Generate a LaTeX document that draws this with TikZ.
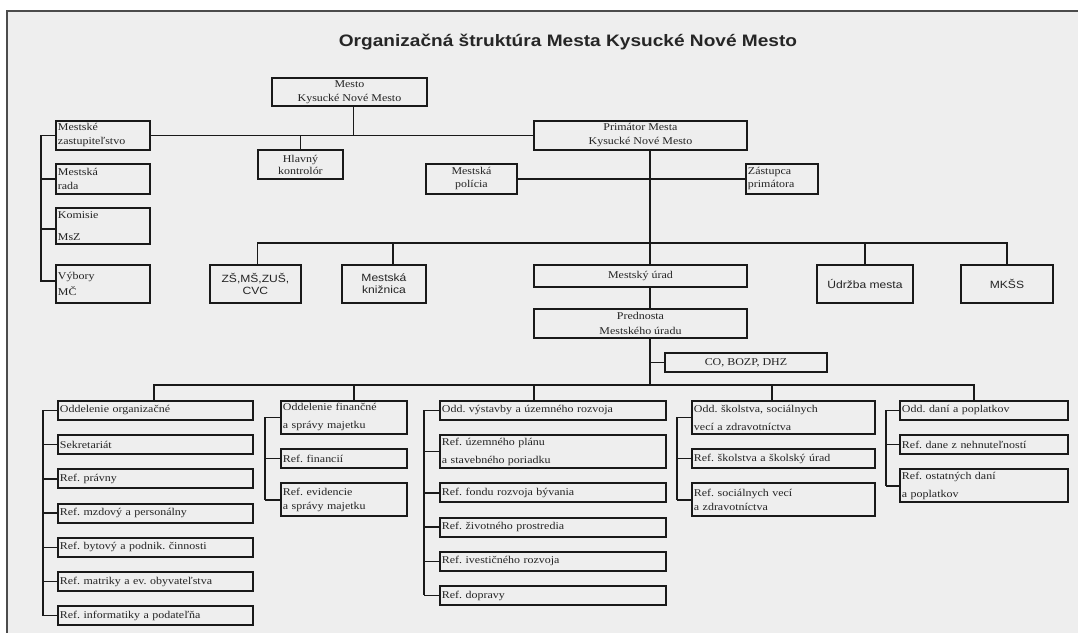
\documentclass[tikz,border=0pt]{standalone}
\usepackage{fontspec}
\setmainfont{Liberation Serif}[FakeStretch=1.15]
\setsansfont{Liberation Sans}[FakeStretch=1.15]
\usetikzlibrary{positioning}

\definecolor{bgpage}{RGB}{238,238,238}
\definecolor{lineink}{RGB}{25,25,25}
\definecolor{textink}{RGB}{35,35,35}
\newcommand{\boxfont}{\fontsize{10.4}{14}\selectfont}
\newcommand{\sansfont}{\sffamily\fontsize{10.5}{12}\selectfont}
\frenchspacing

\begin{document}
\begin{tikzpicture}[
  x=1pt, y=-1pt,
  box/.style  = {draw=lineink, line width=1.9pt, text=textink, inner xsep=2pt, inner ysep=1pt, font=\boxfont},
  cbox/.style = {box, align=center, minimum width=#1, anchor=north west},
  lbox/.style = {box, align=left, text width=#1, anchor=north west},
  sbox/.style = {cbox=#1, font=\sansfont},
  link/.style = {draw=lineink, line width=1.4pt},
  node distance=13.3pt
]
  \useasboundingbox (0,0) rectangle (1078,635);
  \fill[bgpage] (7,11) rectangle (1078,633);
  \draw[black!70, line width=1.2pt] (1078,11) -- (7,11) -- (7,633);

  % Title
  \node[font=\sffamily\bfseries\fontsize{16.6}{19}\selectfont, text=black!85] (title) at (568,42)
    {Organizačná štruktúra Mesta Kysucké Nové Mesto};

  % Mesto and its bodies
  \node[cbox=155pt, minimum height=28pt] (mesto) at (271,77) {Mesto\\Kysucké Nové Mesto};
  \node[lbox=90pt, minimum height=29pt] (zast) at (55,120) {Mestské\\zastupiteľstvo};
  \node[lbox=90pt, minimum height=30pt] (rada) at (55,163) {Mestská\\rada};
  \node[lbox=90pt, minimum height=36pt] (komisie) at (55,207) {Komisie\\[8pt]MsZ};
  \node[lbox=90pt, minimum height=38pt] (vybory) at (55,264) {Výbory\\[2pt]MČ};
  \node[cbox=85pt, minimum height=29pt] (kontrolor) at (257,149) {Hlavný\\[-2pt]kontrolór};

  % Primator
  \node[cbox=213pt, minimum height=29pt] (primator) at (533,120) {Primátor Mesta\\Kysucké Nové Mesto};
  \node[cbox=91pt, minimum height=30pt] (policia) at (425,163) {Mestská\\[-1pt]polícia};
  \node[lbox=68pt, minimum height=30pt] (zastupca) at (745,163) {Zástupca\\[-1pt]primátora};

  % Organizations
  \node[sbox=91pt, minimum height=38pt] (skoly) at (209,264) {ZŠ,MŠ,ZUŠ,\\CVC};
  \node[sbox=84pt, minimum height=38pt] (kniznica) at (341,264) {Mestská\\knižnica};
  \node[cbox=213pt, minimum height=22pt] (urad) at (533,264) {Mestský úrad};
  \node[sbox=96pt, minimum height=38pt] (udrzba) at (816,264) {Údržba mesta};
  \node[sbox=92pt, minimum height=38pt] (mkss) at (960,264) {MKŠS};
  \node[cbox=213pt, minimum height=29pt] (prednosta) at (533,308) {Prednosta\\[1pt]Mestského úradu};
  \node[cbox=162pt, minimum height=19pt] (bozp) at (664,352) {CO, BOZP, DHZ};

  % Oddelenie organizacne
  \node[lbox=191pt, minimum height=19pt] (org) at (57,400) {Oddelenie organizačné};
  \node[lbox=191pt, minimum height=19pt, below=of org] (sekr) {Sekretariát};
  \node[lbox=191pt, minimum height=19pt, below=of sekr] (pravny) {Ref. právny};
  \node[lbox=191pt, minimum height=19pt, below=of pravny] (mzdy) {Ref. mzdový a personálny};
  \node[lbox=191pt, minimum height=19pt, below=of mzdy] (byty) {Ref. bytový a podnik. činnosti};
  \node[lbox=191pt, minimum height=19pt, below=of byty] (matrika) {Ref. matriky a ev. obyvateľstva};
  \node[lbox=191pt, minimum height=19pt, below=of matrika] (podatelna) {Ref. informatiky a podateľňa};

  % Oddelenie financne
  \node[lbox=122pt, minimum height=33pt] (fin) at (280,400) {Oddelenie finančné\\[4pt]a správy majetku};
  \node[lbox=122pt, minimum height=19pt, below=of fin] (financie) {Ref. financií};
  \node[lbox=122pt, minimum height=33pt, below=of financie] (evidencia) {Ref. evidencie\\a správy majetku};

  % Odd. vystavby
  \node[lbox=222pt, minimum height=19pt] (vystavba) at (439,400) {Odd. výstavby a územného rozvoja};
  \node[lbox=222pt, minimum height=33pt, below=of vystavba] (uzemny) {Ref. územného plánu\\[4pt]a stavebného poriadku};
  \node[lbox=222pt, minimum height=19pt, below=of uzemny] (byvanie) {Ref. fondu rozvoja bývania};
  \node[lbox=222pt, minimum height=19pt, below=of byvanie] (prostredie) {Ref. životného prostredia};
  \node[lbox=222pt, minimum height=19pt, below=of prostredie] (investicie) {Ref. ivestičného rozvoja};
  \node[lbox=222pt, minimum height=19pt, below=of investicie] (doprava) {Ref. dopravy};

  % Odd. skolstva
  \node[lbox=179pt, minimum height=33pt] (skolstvo) at (691,400) {Odd. školstva, sociálnych\\[4pt]vecí a zdravotníctva};
  \node[lbox=179pt, minimum height=19pt, below=of skolstvo] (skurad) {Ref. školstva a školský úrad};
  \node[lbox=179pt, minimum height=33pt, below=of skurad] (socialne) {Ref. sociálnych vecí\\a zdravotníctva};

  % Odd. dani
  \node[lbox=164pt, minimum height=19pt] (dane) at (899,400) {Odd. daní a poplatkov};
  \node[lbox=164pt, minimum height=19pt, below=of dane] (nehnut) {Ref. dane z nehnuteľností};
  \node[lbox=164pt, minimum height=33pt, below=of nehnut] (ostatne) {Ref. ostatných daní\\[4pt]a poplatkov};

  % connectors, upper part
  \coordinate (spine) at (650,0);
  \coordinate (lbr) at (41,0);
  \draw[link] (zast.east) -- (primator.west);
  \draw[link] ([xshift=4pt]mesto.south) -- ([xshift=4pt]mesto.south |- zast.east);
  \draw[link] (kontrolor.north) -- (kontrolor.north |- zast.east);
  \draw[link] (zast.west) -- (zast.west -| lbr) -- ([yshift=3pt]vybory.west -| lbr) -- ([yshift=3pt]vybory.west);
  \draw[link] (rada.west -| lbr) -- (rada.west);
  \draw[link] ([yshift=-3pt]komisie.west -| lbr) -- ([yshift=-3pt]komisie.west);
  \draw[link] (policia.east) -- (zastupca.west);
  \draw[link] (primator.south -| spine) -- (urad.north -| spine);
  \draw[link] (urad.south -| spine) -- (prednosta.north -| spine);

  \coordinate (bar1) at (0,243);
  \draw[link] ([xshift=2pt]skoly.north) -- ([xshift=2pt]skoly.north |- bar1) -- (mkss.north |- bar1) -- (mkss.north);
  \draw[link] ([xshift=9pt]kniznica.north) -- ([xshift=9pt]kniznica.north |- bar1);
  \draw[link] (udrzba.north) -- (udrzba.north |- bar1);

  % connectors, departments
  \coordinate (bar2) at (650,385);
  \draw[link] (prednosta.south -| spine) -- (bar2);
  \draw[link] (bozp.west) -- (bozp.west -| spine);
  \draw[link] ([xshift=-1.5pt]org.north) -- ([xshift=-1.5pt]org.north |- bar2) -- ([xshift=-10pt]dane.north |- bar2) -- ([xshift=-10pt]dane.north);
  \draw[link] ([xshift=10pt]fin.north) -- ([xshift=10pt]fin.north |- bar2);
  \draw[link] ([xshift=-19pt]vystavba.north) -- ([xshift=-19pt]vystavba.north |- bar2);
  \draw[link] ([xshift=-11.5pt]skolstvo.north) -- ([xshift=-11.5pt]skolstvo.north |- bar2);

  \coordinate (b1) at (43,0);
  \coordinate (b2) at (265,0);
  \coordinate (b3) at (424,0);
  \coordinate (b4) at (677,0);
  \coordinate (b5) at (886,0);
  \draw[link] (org.west -| b1) -- (podatelna.west -| b1);
  \foreach \n in {org,sekr,pravny,mzdy,byty,matrika,podatelna}
    \draw[link] (\n.west -| b1) -- (\n.west);
  \draw[link] (fin.west -| b2) -- (evidencia.west -| b2);
  \foreach \n in {fin,financie,evidencia}
    \draw[link] (\n.west -| b2) -- (\n.west);
  \draw[link] (vystavba.west -| b3) -- (doprava.west -| b3);
  \foreach \n in {vystavba,uzemny,byvanie,prostredie,investicie,doprava}
    \draw[link] (\n.west -| b3) -- (\n.west);
  \draw[link] (skolstvo.west -| b4) -- (socialne.west -| b4);
  \foreach \n in {skolstvo,skurad,socialne}
    \draw[link] (\n.west -| b4) -- (\n.west);
  \draw[link] (dane.west -| b5) -- (ostatne.west -| b5);
  \foreach \n in {dane,nehnut,ostatne}
    \draw[link] (\n.west -| b5) -- (\n.west);
\end{tikzpicture}
\end{document}
